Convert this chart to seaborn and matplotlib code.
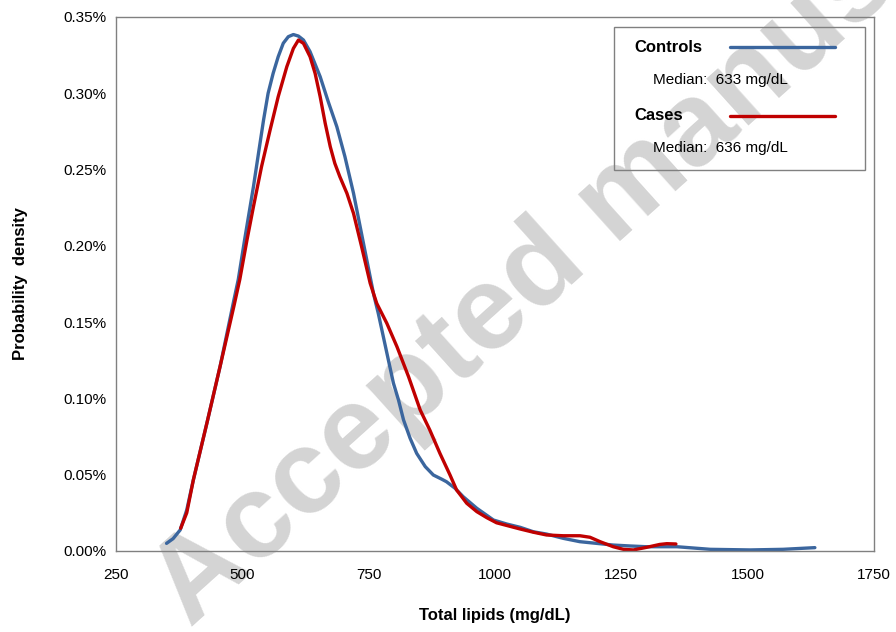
import matplotlib
matplotlib.use("Agg")
import matplotlib.pyplot as plt
import seaborn as sns
import pandas as pd
from matplotlib.ticker import FuncFormatter
from matplotlib.patches import Rectangle
from matplotlib.lines import Line2D

# Data (density in %)
controls_x = [350, 363, 377, 390, 403, 430, 456, 483, 492, 505, 522, 532, 542, 551, 561,
              571, 581, 591, 601, 611, 621, 634, 654, 670, 687, 703, 720, 741, 760, 769,
              779, 789, 799, 809, 819, 832, 845, 862, 878, 895, 904, 921, 937, 964, 997,
              1023, 1050, 1076, 1102, 1135, 1168, 1201, 1234, 1267, 1300, 1360, 1426,
              1505, 1570, 1633]
controls_y = [0.005, 0.0081, 0.0138, 0.0269, 0.0465, 0.084, 0.121, 0.164, 0.178, 0.205,
              0.2388, 0.2607, 0.2825, 0.300, 0.3131, 0.324, 0.3328, 0.3371, 0.3385, 0.3375,
              0.3349, 0.3273, 0.3109, 0.2945, 0.2781, 0.2585, 0.2345, 0.1995, 0.168, 0.1558,
              0.1405, 0.1252, 0.110, 0.099, 0.0859, 0.0739, 0.064, 0.0553, 0.0498, 0.047,
              0.0454, 0.0411, 0.0356, 0.028, 0.0203, 0.0177, 0.0155, 0.0126, 0.0111, 0.0083,
              0.0061, 0.005, 0.0039, 0.0033, 0.0028, 0.0028, 0.0011, 0.0007, 0.0011, 0.0022]

cases_x = [378, 390, 403, 430, 456, 483, 495, 509, 522, 538, 555, 571, 588, 601, 611,
           621, 634, 644, 654, 664, 674, 683, 693, 707, 720, 736, 753, 766, 786, 806,
           829, 852, 871, 891, 911, 924, 944, 964, 984, 1003, 1027, 1050, 1076, 1102, 1135,
           1168, 1188, 1208, 1234, 1254, 1274, 1300, 1326, 1340, 1358]
cases_y = [0.0149, 0.025, 0.0465, 0.084, 0.121, 0.160, 0.178, 0.2035, 0.2257, 0.2519,
           0.276, 0.2978, 0.3174, 0.3294, 0.3349, 0.3327, 0.324, 0.3131, 0.2978, 0.2803,
           0.265, 0.2541, 0.2453, 0.2344, 0.2213, 0.1995, 0.1755, 0.1623, 0.1492, 0.1339,
           0.1142, 0.0924, 0.0793, 0.064, 0.0498, 0.040, 0.0313, 0.0258, 0.0218, 0.0185,
           0.0164, 0.0144, 0.0123, 0.0105, 0.010, 0.010, 0.009, 0.0061, 0.0028, 0.0011,
           0.0007, 0.0024, 0.0043, 0.0048, 0.0046]

series_names = ["Controls", "Cases"]
medians = [633, 636]
x_ticks = [250, 500, 750, 1000, 1250, 1500, 1750]
y_ticks = [0.00, 0.05, 0.10, 0.15, 0.20, 0.25, 0.30, 0.35]

df = pd.concat([
    pd.DataFrame({"x": controls_x, "y": controls_y, "group": "Controls"}),
    pd.DataFrame({"x": cases_x, "y": cases_y, "group": "Cases"}),
], ignore_index=True)

sns.set_theme(style="white")
plt.rcParams["font.family"] = ["Liberation Sans", "DejaVu Sans"]
plt.rcParams["text.color"] = "black"
plt.rcParams["axes.labelcolor"] = "black"

colors = {"Controls": "#3B669E", "Cases": "#C00000"}

fig = plt.figure(figsize=(8.96, 6.32), dpi=100)
ax = fig.add_axes([116 / 896, 1 - 551 / 632, (874 - 116) / 896, (551 - 17) / 632])
ax.patch.set_facecolor("none")

sns.lineplot(data=df, x="x", y="y", hue="group", palette=colors, sort=False,
             estimator=None, linewidth=2.4, legend=False, ax=ax)
for ln in ax.lines:
    ln.set_solid_joinstyle("round")
    ln.set_solid_capstyle("round")

ax.set_xlim(250, 1750)
ax.set_ylim(0, 0.35)
ax.set_xticks(x_ticks)
ax.set_yticks(y_ticks)
ax.yaxis.set_major_formatter(FuncFormatter(lambda v, p: f"{v:.2f}%"))
ax.xaxis.set_major_formatter(FuncFormatter(lambda v, p: f"{int(round(v))}"))
for s in ax.spines.values():
    s.set_color("#808080")
    s.set_linewidth(1.0)
ax.tick_params(axis="both", which="both", direction="out", length=4, width=1,
               color="#808080", labelsize=11, labelcolor="black", pad=3)
ax.tick_params(axis="x", pad=8)
ax.set_xlabel("Total lipids (mg/dL)", fontsize=12, fontweight="bold", labelpad=19)
ax.set_ylabel("Probability  density", fontsize=12, fontweight="bold", labelpad=25)

# Legend box (manual, to match layout)
def px(xp, yp):
    return (xp / 896, 1 - yp / 632)
x0, y0 = px(614, 170)
x1, y1 = px(865, 27)
fig.patches.append(Rectangle((x0, y0), x1 - x0, y1 - y0, transform=fig.transFigure,
                             facecolor="none", edgecolor="#808080", linewidth=1.0, zorder=5))
rows = [(47, 80), (116, 148)]
for name, med, (yl, ym) in zip(series_names, medians, rows):
    fx, fy = px(634, yl)
    fig.text(fx, fy, name, fontsize=12, fontweight="bold", va="center", ha="left", zorder=6)
    lx0, ly = px(730, yl)
    lx1, _ = px(835, yl)
    fig.lines.append(Line2D([lx0, lx1], [ly, ly], transform=fig.transFigure,
                            color=colors[name], linewidth=2.4, zorder=6))
    mx, my = px(653, ym)
    fig.text(mx, my, f"Median:  {med} mg/dL", fontsize=11, va="center", ha="left", zorder=6)

# Watermark (behind everything else)
wx, wy = px(190, 628)
fig.text(wx, wy, "Accepted manus", fontsize=86, fontweight="bold", color="#d4d4d4",
         rotation=42, rotation_mode="anchor", ha="left", va="baseline", zorder=-1)

fig.savefig("out.png", dpi=100)
